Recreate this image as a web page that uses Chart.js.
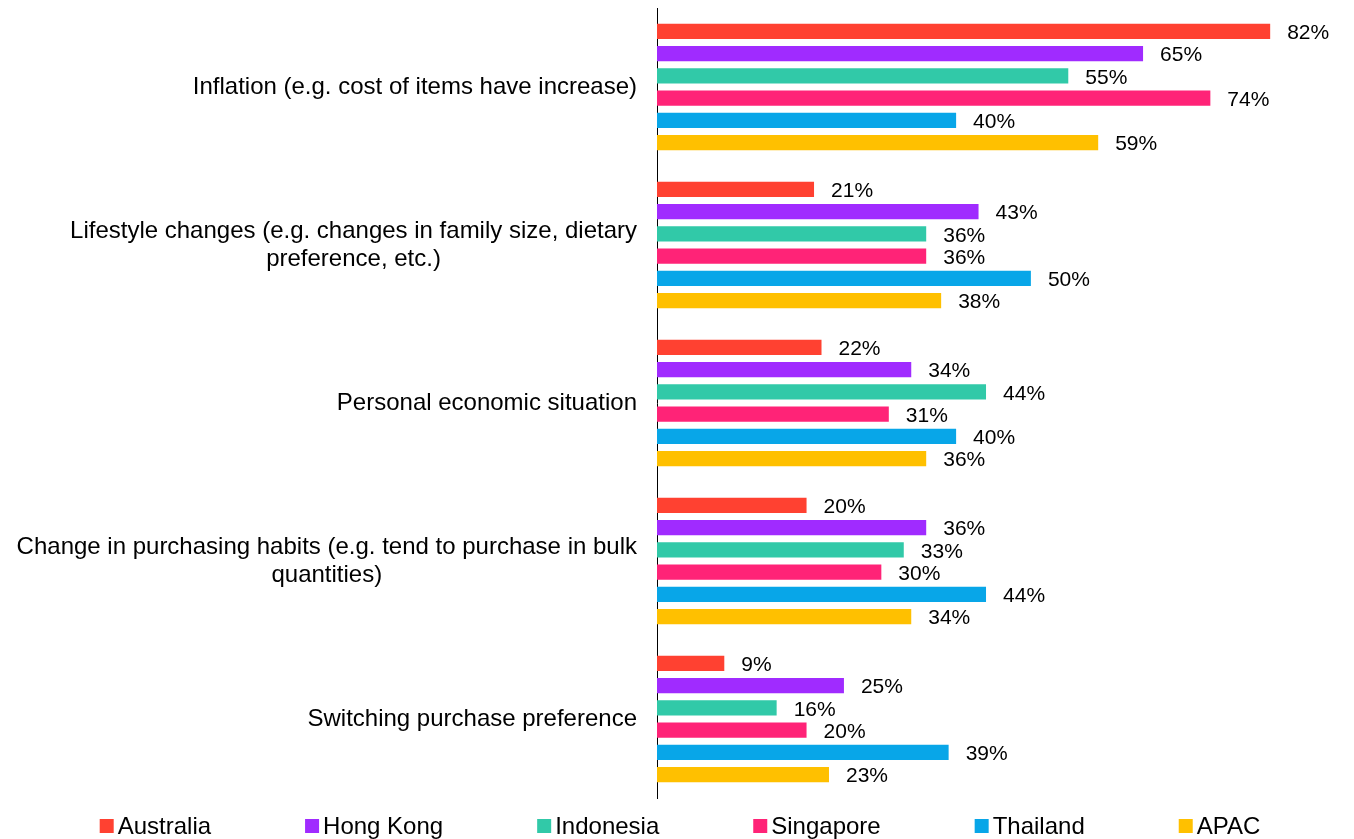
<!DOCTYPE html>
<html>
<head>
<meta charset="utf-8">
<script src="https://cdn.jsdelivr.net/npm/chart.js@4/dist/chart.umd.min.js"></script>
<style>
  html, body { margin: 0; padding: 0; background: #fff; }
  #wrap { width: 1354px; height: 839px; position: relative; }
</style>
</head>
<body>
<div id="wrap"><canvas id="c" width="1354" height="839"></canvas></div>
<script>
const categories = [
  "Inflation (e.g. cost of items have increase)",
  ["Lifestyle changes (e.g. changes in family size, dietary", "preference, etc.)"],
  "Personal economic situation",
  ["Change in purchasing habits (e.g. tend to purchase in bulk", "quantities)"],
  "Switching purchase preference"
];
const seriesNames = ["Australia", "Hong Kong", "Indonesia", "Singapore", "Thailand", "APAC"];
const australia = [82, 21, 22, 20, 9];
const hongKong  = [65, 43, 34, 36, 25];
const indonesia = [55, 36, 44, 33, 16];
const singapore = [74, 36, 31, 30, 20];
const thailand  = [40, 50, 40, 44, 39];
const apac      = [59, 38, 36, 34, 23];
const colors = ["#FF4131", "#A02BFF", "#31C9A8", "#FF2377", "#08A6E8", "#FFC000"];

const FONT = "'Liberation Sans', Arial, sans-serif";
const allSeries = [australia, hongKong, indonesia, singapore, thailand, apac];

const valueLabels = {
  id: 'valueLabels',
  afterDatasetsDraw(chart) {
    const ctx = chart.ctx;
    ctx.save();
    ctx.font = "21px " + FONT;
    ctx.fillStyle = "#000";
    ctx.textAlign = "left";
    ctx.textBaseline = "middle";
    chart.data.datasets.forEach((ds, i) => {
      const meta = chart.getDatasetMeta(i);
      meta.data.forEach((bar, j) => {
        ctx.fillText(ds.data[j] + "%", bar.x + 17, bar.y + 2);
      });
    });
    ctx.restore();
  }
};

const categoryLabels = {
  id: 'categoryLabels',
  afterDraw(chart) {
    const ctx = chart.ctx;
    const scale = chart.scales.y;
    ctx.save();
    ctx.font = "24px " + FONT;
    ctx.fillStyle = "#000";
    ctx.textAlign = "center";
    ctx.textBaseline = "middle";
    const lh = 28;
    const right = scale.right - 20;
    chart.data.labels.forEach((lab, i) => {
      const lines = Array.isArray(lab) ? lab : [lab];
      const w = Math.max(...lines.map(l => ctx.measureText(l).width));
      const cx = right - w / 2;
      const yc = scale.getPixelForTick(i);
      const y0 = yc - (lines.length - 1) * lh / 2;
      lines.forEach((l, k) => ctx.fillText(l, cx, y0 + k * lh));
    });
    ctx.restore();
  }
};

const customLegend = {
  id: 'customLegend',
  afterDraw(chart) {
    const ctx = chart.ctx;
    ctx.save();
    ctx.font = "24px " + FONT;
    const box = 14, boxGap = 4, itemGap = 94;
    const items = chart.data.datasets.map(ds => ({ text: ds.label, color: ds.backgroundColor, w: ctx.measureText(ds.label).width }));
    const total = items.reduce((s, it) => s + box + boxGap + it.w, 0) + itemGap * (items.length - 1);
    let x = (chart.width - total) / 2 + 3;
    const yc = 826;
    ctx.textBaseline = "middle";
    ctx.textAlign = "left";
    items.forEach(it => {
      ctx.fillStyle = it.color;
      ctx.fillRect(x, yc - box / 2, box, box);
      ctx.fillStyle = "#000";
      ctx.fillText(it.text, x + box + boxGap, yc + 1);
      x += box + boxGap + it.w + itemGap;
    });
    ctx.restore();
  }
};

new Chart(document.getElementById('c'), {
  type: 'bar',
  data: {
    labels: categories,
    datasets: seriesNames.map((name, i) => ({
      label: name,
      data: allSeries[i],
      backgroundColor: colors[i],
      borderWidth: 0,
      barPercentage: 0.68,
      categoryPercentage: 0.845
    }))
  },
  options: {
    indexAxis: 'y',
    responsive: false,
    animation: false,
    devicePixelRatio: 1,
    layout: { padding: { top: 8, bottom: 41, left: 0, right: 24 } },
    plugins: {
      legend: { display: false },
      tooltip: { enabled: false }
    },
    scales: {
      x: {
        display: false,
        min: 0,
        max: 90
      },
      y: {
        grid: { display: false, drawTicks: false },
        border: { display: true, color: '#000', width: 1 },
        ticks: { display: false },
        afterFit(scale) { scale.width = 657; scale.paddingTop = 0; scale.paddingBottom = 0; }
      }
    }
  },
  plugins: [valueLabels, categoryLabels, customLegend]
});
</script>
</body>
</html>
